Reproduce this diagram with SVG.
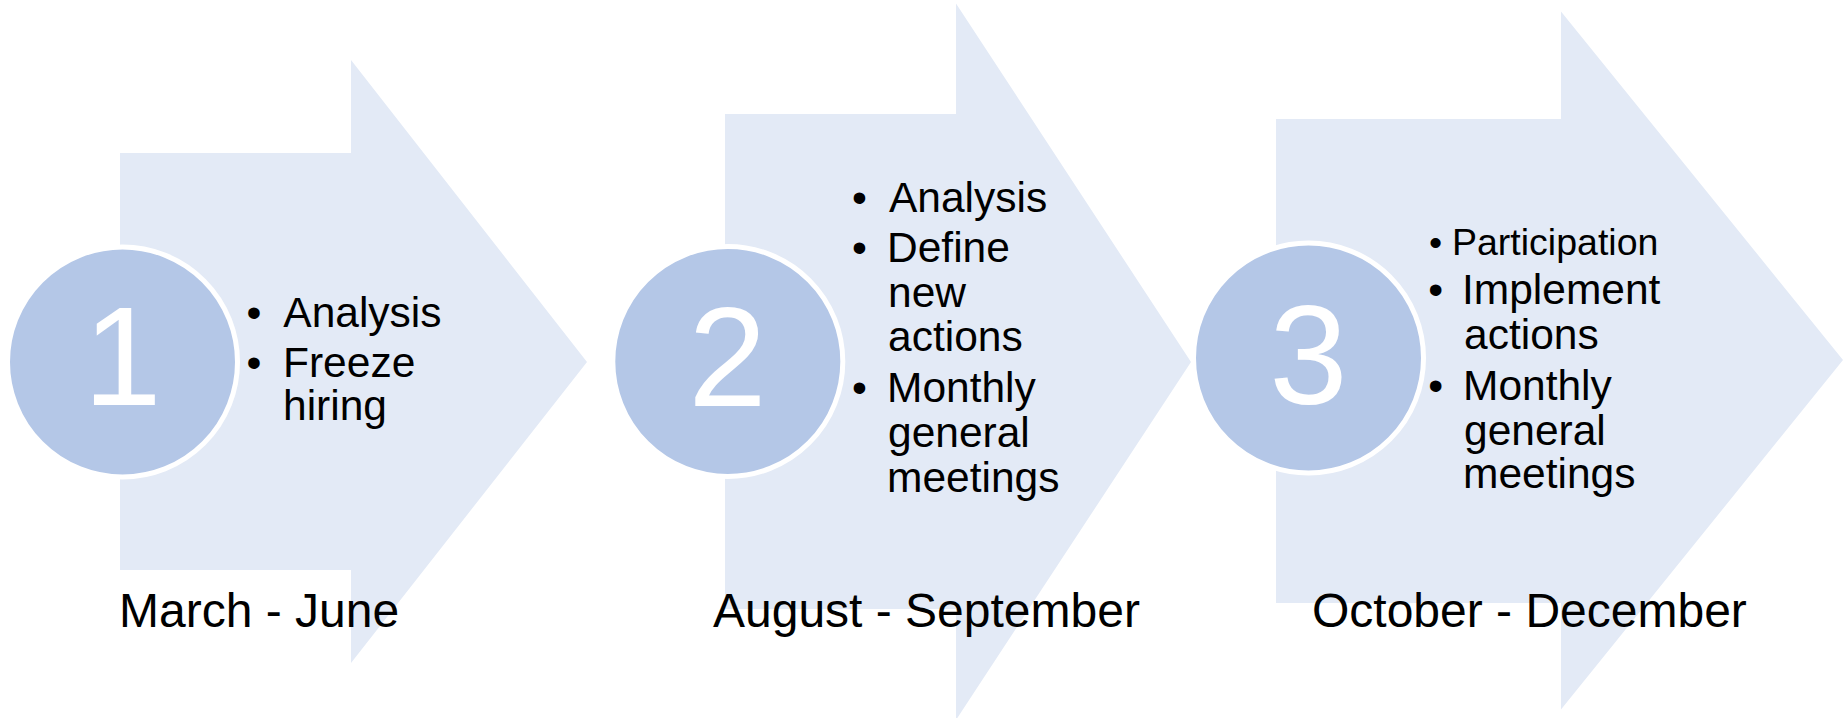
<svg xmlns="http://www.w3.org/2000/svg" width="1843" height="718" viewBox="0 0 1843 718">
  <style>
    .arrow { fill: #E3EAF6; }
    .disc { fill: #B4C7E7; stroke: #FFFFFF; stroke-width: 5; }
    .num { font-family: "Liberation Sans", Arial, sans-serif; font-size: 141px; fill: #FFFFFF; text-anchor: middle; }
    .txt { font-family: "Liberation Sans", Arial, sans-serif; font-size: 42.5px; fill: #000000; }
    .small { font-size: 37.5px; }
    .label { font-family: "Liberation Sans", Arial, sans-serif; font-size: 48px; fill: #000000; }
  </style>
  <rect width="1843" height="718" fill="#FFFFFF"/>
  <g id="connectors"/>
  <g id="step1">
    <polygon class="arrow" points="120,153 351,153 351,60 587,362 351,663 351,570 120,570"/>
    <circle class="disc" cx="122.5" cy="362" r="115"/>
    <text class="num" x="122.5" y="405">1</text>
    <text class="txt">
      <tspan x="246.6" y="326.7">•</tspan><tspan x="283.3" y="326.7">Analysis</tspan>
      <tspan x="246.6" y="376.7">•</tspan><tspan x="283" y="376.7">Freeze</tspan>
      <tspan x="283" y="420">hiring</tspan>
    </text>
    <text class="label" x="119" y="627">March - June</text>
  </g>
  <g id="step2">
    <polygon class="arrow" points="725,114 956,114 956,3.5 1191,362 956,720 956,609 725,609"/>
    <circle class="disc" cx="727.8" cy="361.5" r="115"/>
    <text class="num" x="727.5" y="406">2</text>
    <text class="txt">
      <tspan x="852" y="212.3">•</tspan><tspan x="889" y="212.3">Analysis</tspan>
      <tspan x="852" y="261.7">•</tspan><tspan x="887" y="261.7">Define</tspan>
      <tspan x="888" y="306.7">new</tspan>
      <tspan x="888" y="350.7">actions</tspan>
      <tspan x="852" y="401.7">•</tspan><tspan x="887" y="401.7">Monthly</tspan>
      <tspan x="888" y="446.7">general</tspan>
      <tspan x="887" y="491.7">meetings</tspan>
    </text>
    <text class="label" x="713" y="627">August - September</text>
  </g>
  <g id="step3">
    <polygon class="arrow" points="1276,119 1561,119 1561,11.5 1843,360 1561,709.5 1561,603 1276,603"/>
    <circle class="disc" cx="1308.5" cy="358" r="115"/>
    <text class="num" x="1308.5" y="404">3</text>
    <text class="txt">
      <tspan class="small" x="1429" y="255">•</tspan><tspan class="small" x="1452" y="255">Participation</tspan>
      <tspan x="1428.3" y="304">•</tspan><tspan x="1462" y="304">Implement</tspan>
      <tspan x="1464" y="349.3">actions</tspan>
      <tspan x="1428.3" y="400">•</tspan><tspan x="1463" y="400">Monthly</tspan>
      <tspan x="1464" y="445">general</tspan>
      <tspan x="1463" y="488.3">meetings</tspan>
    </text>
    <text class="label" x="1312" y="627">October - December</text>
  </g>
</svg>
